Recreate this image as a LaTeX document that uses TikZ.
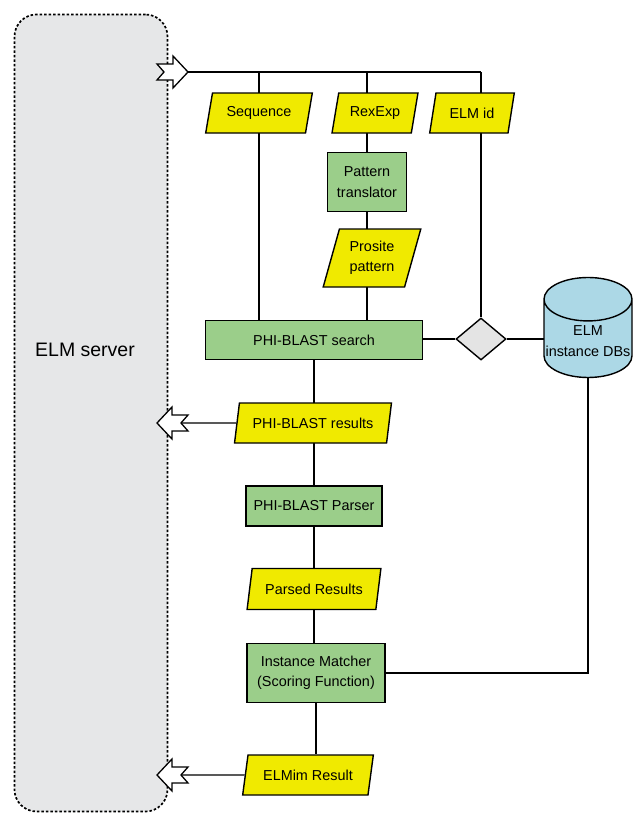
\documentclass[tikz,border=0pt]{standalone}
\usepackage{fontspec}
\setmainfont{Liberation Sans}
\usetikzlibrary{shapes.geometric,backgrounds}
\definecolor{datayellow}{RGB}{240,234,0}
\definecolor{procgreen}{RGB}{155,206,138}
\definecolor{dbblue}{RGB}{172,216,230}
\definecolor{diagray}{RGB}{228,228,228}
\definecolor{servergray}{RGB}{230,231,232}
\tikzset{
  hollow/.pic={
    \draw[fill=white,line width=1.3pt,line join=miter]
      (0,0) -- (-15,-16) -- (-15,-8) -- (-31,-8) -- (-24,0)
      -- (-31,8) -- (-15,8) -- (-15,16) -- cycle;
  }
}
\begin{document}
\begin{tikzpicture}[x=1pt,y=-1pt,
  every node/.style={font=\fontsize{14.4}{20.5}\selectfont},
  proc/.style={draw,line width=1.4pt,fill=procgreen,align=center,inner sep=1pt},
  data/.style={trapezium,trapezium left angle=72,trapezium right angle=108,
    trapezium stretches=true,draw,line width=1.4pt,fill=datayellow,
    minimum height=40,align=center,inner sep=1pt},
  wire/.style={line width=1.4pt}]
  \useasboundingbox (0,0) rectangle (633,814);
  % ELM server
  \node[draw,fill=servergray,line width=1.7pt,dash pattern=on 2.5pt off 2pt,
    rounded corners=22pt,minimum width=153,minimum height=797] (server) at (91,413) {};
  \node[font=\fontsize{19.5}{23}\selectfont] (srvlabel) at (85,350) {ELM server};
  % inputs
  \node[data,minimum width=107] (seq) at (259,113) {Sequence};
  \node[data,minimum width=86] (rex) at (375,113) {RexExp};
  \node[data,minimum width=85] (elmid) at (472,113) {ELM id};
  \node[proc,minimum width=79,minimum height=59] (trans) at (367,182) {Pattern\\translator};
  \node[data,minimum width=98,minimum height=58] (pros) at (372,258) {Prosite\\pattern};
  % search
  \node[proc,minimum width=217,minimum height=39] (search) at (314,340) {PHI-BLAST search};
  \node[diamond,draw,line width=1.4pt,fill=diagray,minimum width=50,minimum height=42,inner sep=0pt] (dia) at (481,339) {};
  \node[cylinder,shape border rotate=90,aspect=0.5,draw,line width=1.4pt,fill=dbblue,
    minimum width=88,minimum height=100,align=center,inner sep=1pt] (db) at (588,341) {ELM\\instance DBs};
  % results chain
  \node[data,minimum width=157] (res) at (313,423) {PHI-BLAST results};
  \node[proc,minimum width=136,minimum height=40] (parser) at (314,506) {PHI-BLAST Parser};
  \node[data,minimum width=134,minimum height=41] (parsed) at (314,589) {Parsed Results};
  \node[proc,minimum width=138,minimum height=59] (match) at (316,673) {Instance Matcher\\(Scoring Function)};
  \node[data,minimum width=131] (elmim) at (308,775) {ELMim Result};
  \coordinate (in1) at (188,72);
  \coordinate (out1) at (157,423);
  \coordinate (out2) at (157,775);
  \begin{scope}[on background layer]
    \draw[wire] (in1) -- (dia.north |- in1);
    \draw[wire] (seq.north |- in1) -- (seq.north |- search.north);
    \draw[wire] (trans.north |- in1) -- (trans.north |- search.north);
    \draw[wire] (dia.north |- in1) -- (dia.north);
    \draw[wire] (search.east |- dia.west) -- (dia.west);
    \draw[wire] (dia.east) -- (dia.east -| db.center);
    \draw[wire] (db.south) |- (match.east);
    \draw[wire] (search.south) -- (search.south |- match.north);
    \draw[wire] (match.south) -- (match.south |- elmim.north);
    \draw[wire] (res.west) -- (out1);
    \draw[wire] (elmim.west) -- (out2);
  \end{scope}
  \pic at (in1) {hollow};
  \pic[rotate=180] at (out1) {hollow};
  \pic[rotate=180] at (out2) {hollow};
\end{tikzpicture}
\end{document}
